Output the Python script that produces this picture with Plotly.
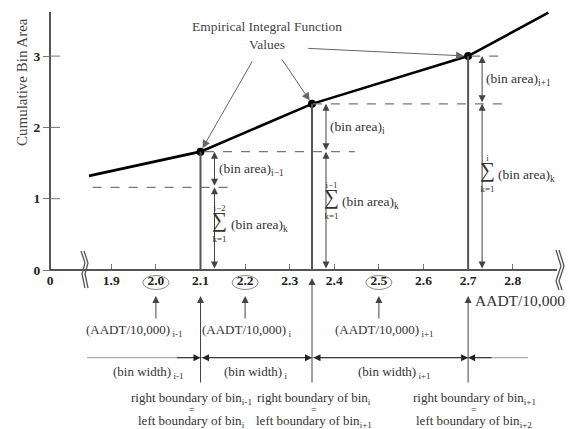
import plotly.graph_objects as go

# ---------------- data ----------------
curve_x = [1.85, 2.10, 2.35, 2.70, 2.88]
curve_y = [1.32, 1.66, 2.33, 3.00, 3.61]
point_x = [2.10, 2.35, 2.70]          # bin boundaries (empirical integral points)
point_y = [1.66, 2.33, 3.00]
cum_levels = [1.16, 1.66, 2.33, 3.00]  # cumulative bin area levels
aadt_x = [2.0, 2.2, 2.5]               # circled AADT/10,000 values
x_tickvals = [1.9, 2.0, 2.1, 2.2, 2.3, 2.4, 2.5, 2.6, 2.7, 2.8]
x_ticktext = ["1.9", "2.0", "2.1", "2.2", "2.3", "2.4", "2.5", "2.6", "2.7", "2.8"]
y_tickvals = [0, 1, 2, 3]
y_ticktext = ["0", "1", "2", "3"]

bin_area_labels = ["(bin area)<sub>i−1</sub>", "(bin area)<sub>i</sub>", "(bin area)<sub>i+1</sub>"]
sum_upper = ["i−2", "i−1", "i"]
aadt_labels = ["(AADT/10,000)<sub> i-1</sub>", "(AADT/10,000)<sub> i</sub>", "(AADT/10,000)<sub> i+1</sub>"]
bin_width_labels = ["(bin width)<sub> i-1</sub>", "(bin width)<sub> i</sub>", "(bin width)<sub> i+1</sub>"]
right_labels = ["right boundary of bin<sub>i-1</sub>", "right boundary of bin<sub>i</sub>", "right boundary of bin<sub>i+1</sub>"]
left_labels = ["left boundary of bin<sub>i</sub>", "left boundary of bin<sub>i+1</sub>", "left boundary of bin<sub>i+2</sub>"]

# ---------------- scale helpers (layout positioning) ----------------
W, H = 570, 429
XPX = 446.0      # pixels per x unit
YPX = 71.3       # pixels per y unit
X0 = 1.9 - 111.3 / XPX
Y0 = 270 / YPX
def px2x(p): return X0 + p / XPX
def py2y(p): return Y0 - p / YPX
def dx(p): return p / XPX
def dy(p): return p / YPX

BREAK_X = px2x(50)   # axis origin drawn after the axis break
SERIF = "Liberation Serif"
TXT = "#333"

fig = go.Figure()

# curve + points
fig.add_trace(go.Scatter(x=curve_x, y=curve_y, mode="lines",
                         line=dict(color="black", width=2.6), hoverinfo="skip"))
fig.add_trace(go.Scatter(x=point_x, y=point_y, mode="markers",
                         marker=dict(color="black", size=8), hoverinfo="skip"))

shapes = []
ann = []

# axes lines
shapes.append(dict(type="line", x0=BREAK_X, x1=px2x(557), y0=0, y1=0,
                   line=dict(color="#555", width=2)))
shapes.append(dict(type="line", x0=BREAK_X, x1=BREAK_X, y0=0, y1=py2y(12),
                   line=dict(color="#555", width=2)))
for v in y_tickvals[1:]:
    shapes.append(dict(type="line", x0=BREAK_X, x1=BREAK_X + dx(10), y0=v, y1=v,
                       line=dict(color="#777", width=1)))

# axis breaks
for off in (0, 3):
    xs = [81 + off, 85 + off, 82 + off, 85 + off]
    ys = [251, 263, 274, 288]
    path = "M " + " L ".join(f"{px2x(a)},{py2y(b)}" for a, b in zip(xs, ys))
    shapes.append(dict(type="path", path=path, line=dict(color="#555", width=1.3)))
    xs = [556 + off, 561 + off, 556 + off, 559 + off]
    ys = [250, 266, 281, 290]
    path = "M " + " L ".join(f"{px2x(a)},{py2y(b)}" for a, b in zip(xs, ys))
    shapes.append(dict(type="path", path=path, line=dict(color="#555", width=1.3)))

# vertical lines from points down to axis
for xv, yv in zip(point_x, point_y):
    shapes.append(dict(type="line", x0=xv, x1=xv, y0=0, y1=yv,
                       line=dict(color="#555", width=2)))

# dashed level lines
dash_spans = [(curve_x[0] + 0.008, point_x[0] + 0.077, cum_levels[0]),
              (point_x[0] + 0.01, point_x[1] + 0.096, cum_levels[1]),
              (point_x[1] + 0.002, point_x[2] + 0.078, cum_levels[2]),
              (point_x[2] + 0.007, point_x[2] + 0.078, cum_levels[3])]
for a, b, lv in dash_spans:
    shapes.append(dict(type="line", x0=a, x1=b, y0=lv, y1=lv,
                       line=dict(color="#777", width=1.3, dash="dash")))

# circled tick values
for v in aadt_x:
    shapes.append(dict(type="circle", x0=v - dx(13), x1=v + dx(13),
                       y0=py2y(289.5), y1=py2y(275.5),
                       line=dict(color="#888", width=1)))

# bin width line
BW_Y = py2y(357.7)
shapes.append(dict(type="line", x0=px2x(87), x1=px2x(528), y0=BW_Y, y1=BW_Y,
                   line=dict(color="#999", width=1)))


def arrow(x, y, ax, ay, both=False, color="#333", width=1, size=1.4, standoff=0):
    ann.append(dict(x=x, y=y, ax=ax, ay=ay, xref="x", yref="y", axref="x", ayref="y",
                    text="", showarrow=True, arrowhead=2, arrowsize=size,
                    arrowwidth=width, arrowcolor=color,
                    arrowside="end+start" if both else "end",
                    standoff=standoff, startstandoff=0))


def text(x, y, t, size=13, xanchor="center", color=TXT, angle=0):
    ann.append(dict(x=x, y=y, xref="x", yref="y", text=t, showarrow=False,
                    xanchor=xanchor, yanchor="middle", textangle=angle,
                    font=dict(family=SERIF, size=size, color=color)))


# y axis title
text(px2x(22), py2y(82), "Cumulative Bin Area", size=15, angle=-90, color="#444")

# Empirical label + arrows
text(px2x(267), py2y(35), "Empirical Integral Function<br>Values", size=13.5, color="#444")
tails = [(253, 60), (281, 58), (306.7, 48.3)]
for (tx, ty), xv, yv in zip(tails, point_x, point_y):
    arrow(xv, yv, px2x(tx), py2y(ty), color="#666", width=1, size=1.6, standoff=4)

# bin area arrows and labels
sum_y = [0.62, 0.94, 1.33]
for i, xv in enumerate(point_x):
    axx = xv + dx(14)
    top, mid = cum_levels[i + 1], cum_levels[i]
    arrow(axx, top, axx, mid, both=True, color="#444")
    arrow(axx, mid, axx, 0, both=True, color="#444")
    text(axx + dx(2), (top + mid) / 2, bin_area_labels[i], size=13.5, xanchor="left")
    sx = axx + dx(5)
    sy = sum_y[i]
    sym = ("<span style='font-size:9px'>" + sum_upper[i] + "</span><br>"
           "<span style='font-size:21px'>∑</span><br>"
           "<span style='font-size:9px'>k=1</span>")
    text(sx, sy + dy(2), sym, size=12)
    text(sx + dx(9), sy, "(bin area)<sub>k</sub>", size=13.5, xanchor="left")

# AADT arrows and labels
aadt_label_x = [1.951, 2.203, 2.512]
for v, lx, lab in zip(aadt_x, aadt_label_x, aadt_labels):
    arrow(v, py2y(296), v, py2y(320), color="#444")
    text(lx, py2y(330), lab, size=13)

# long vertical lines below axis
heads = [296, 278, 296]
for xv, hpx in zip(point_x, heads):
    arrow(xv, py2y(hpx), xv, py2y(384), color="#444", size=1.4)

text(px2x(473), py2y(300), "AADT/10,000", size=15.5, xanchor="left")

# bin width arrows
arrow(point_x[0], BW_Y, point_x[0] - dx(25), BW_Y, color="#222", size=1.4)
arrow(point_x[1], BW_Y, point_x[0], BW_Y, both=True, color="#222", size=1.4)
arrow(point_x[2], BW_Y, point_x[1], BW_Y, both=True, color="#222", size=1.4)
arrow(point_x[2], BW_Y, point_x[2] + dx(25), BW_Y, color="#222", size=1.4)
bw_x = [1.983, 2.224, 2.536]
for lx, lab in zip(bw_x, bin_width_labels):
    text(lx, py2y(372), lab, size=13)

# boundary labels
bnd_x = [point_x[0] - dx(9), point_x[1] + dx(2), point_x[2] + dx(6)]
for bx, r, l in zip(bnd_x, right_labels, left_labels):
    text(bx, py2y(398), r, size=13)
    text(bx, py2y(409), "=", size=10)
    text(bx, py2y(421), l, size=13)

fig.update_layout(
    width=W, height=H, margin=dict(l=0, r=0, t=0, b=0),
    paper_bgcolor="white", plot_bgcolor="white", showlegend=False,
    shapes=shapes, annotations=ann,
    xaxis=dict(range=[X0, X0 + W / XPX], domain=[0, 1], anchor="free", position=(H - 270) / H,
               showgrid=False, zeroline=False, showline=False,
               tickvals=[BREAK_X] + x_tickvals, ticktext=["0"] + x_ticktext,
               ticks="inside", ticklen=6, tickcolor="#777", tickwidth=1,
               tickfont=dict(family=SERIF, size=13.5, color="#222", weight="bold")),
    yaxis=dict(range=[Y0 - H / YPX, Y0], domain=[0, 1], anchor="free", position=50 / W,
               showgrid=False, zeroline=False, showline=False,
               tickvals=y_tickvals, ticktext=y_ticktext,
               ticks="outside", ticklen=7, tickcolor="#777", tickwidth=1,
               tickfont=dict(family=SERIF, size=13.5, color="#222", weight="bold")),
)

fig.write_html("out.html")
